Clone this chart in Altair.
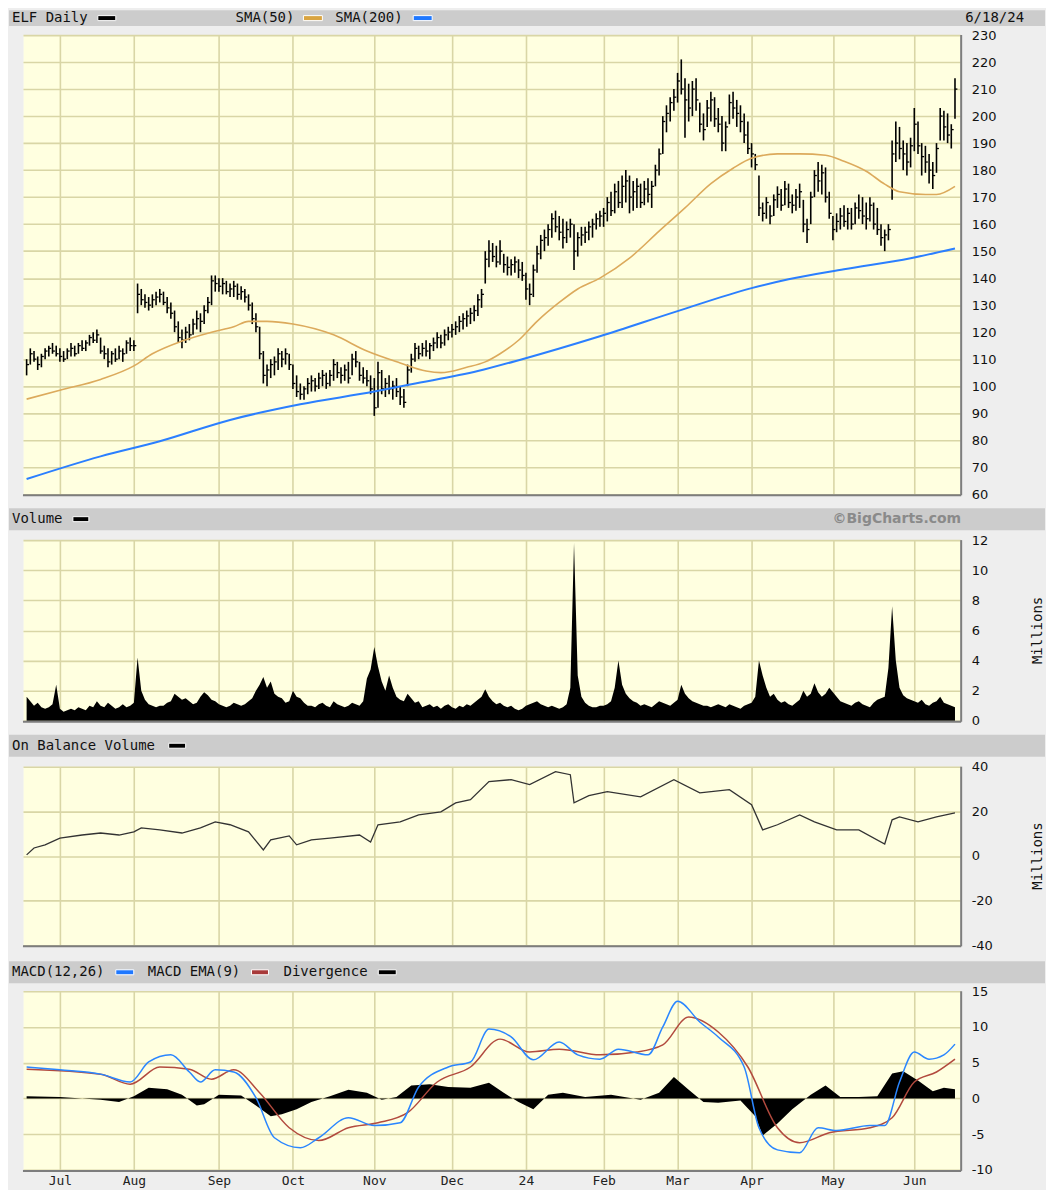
import altair as alt
import pandas as pd

# ---------------- data ----------------
month_ticks = [9, 29, 52, 72, 94, 115, 135, 156, 176, 196, 218, 240]   # trading-day index of 1st session
month_labels = ["Jul", "Aug", "Sep", "Oct", "Nov", "Dec", "24", "Feb", "Mar", "Apr", "May", "Jun"]

# daily bars (high, low, close)
bars_jun23 = [(110,104,108),(114,108,112),(113,109,110),(111,106,108),(112,107,111),(114,110,113),(115,111,114),(116,112,113),(115,111,112)]
bars_jul = [(114,109,111),(113,109,110),(114,110,113),(116,111,114),(115,111,112),(116,112,115),(117,113,114),(117,113,116),(119,115,118),(120,116,117),
            (121,116,119),(118,112,113),(115,110,112),(114,107,109),(113,108,112),(114,109,110),(115,110,113),(114,109,112),(117,112,116),(118,113,115)]
bars_aug = [(117,113,115),(138,127,134),(136,130,132),(134,129,131),(133,128,130),(134,129,132),(135,130,133),(136,131,134),(135,130,131),(133,127,129),
            (131,125,127),(128,120,122),(124,116,118),(121,114,117),(122,116,120),(123,117,119),(125,119,123),(128,121,125),(127,120,124),(130,123,128),
            (133,127,131),(141,130,139),(141,135,138)]
bars_sep = [(140,135,137),(140,134,138),(139,134,135),(138,133,136),(139,133,137),(138,132,134),(137,132,135),(136,131,133),(134,128,130),(131,123,125),
            (127,120,122),(122,110,112),(113,101,104),(108,100,106),(110,103,108),(111,104,109),(114,106,112),(113,107,110),(114,108,112),(112,106,108)]
bars_oct = [(108,99,101),(104,96,98),(101,95,97),(100,95,99),(103,97,101),(104,98,102),(103,98,100),(105,99,103),(106,100,104),(105,99,101),
            (106,100,104),(110,102,108),(109,103,105),(107,101,104),(108,102,106),(109,101,103),(112,104,110),(113,107,109),(109,102,104),(107,101,103),
            (106,100,102),(104,97,99)]
bars_nov = [(103,89,92),(109,92,105),(106,97,99),(103,96,101),(104,97,99),(102,95,100),(103,96,98),(100,93,96),(99,92,94),(108,100,106),
            (112,105,110),(116,109,114),(115,110,112),(116,111,114),(117,111,113),(116,110,115),(118,113,116),(120,114,118),(119,114,116),(121,115,119),
            (122,117,120)]
bars_dec = [(123,118,121),(124,119,122),(126,120,124),(127,121,125),(128,122,126),(129,123,127),(130,124,128),(134,126,132),(136,129,134),(150,138,147),
            (154,144,150),(153,146,148),(152,144,146),(154,145,150),(149,142,145),(148,141,144),(147,141,145),(148,142,146),(147,140,143),(146,139,141)]
bars_jan = [(142,132,136),(138,130,134),(145,133,143),(152,142,149),(156,147,154),(158,150,155),(160,152,158),(164,155,162),(165,157,159),(163,154,157),
            (162,151,155),(161,153,158),(162,155,160),(160,143,150),(157,148,155),(159,152,156),(159,153,157),(161,154,159),(162,155,160),(164,158,162),
            (165,159,163)]
bars_feb = [(166,159,164),(170,161,168),(172,163,165),(175,164,172),(176,166,168),(178,166,174),(180,168,176),(178,164,170),(176,165,172),(177,166,174),
            (175,166,168),(176,167,173),(177,168,171),(176,166,174),(182,174,180),(188,178,186),(200,186,198),(204,194,201),(207,198,205),(210,202,207)]
bars_mar = [(216,205,213),(221,208,210),(214,192,206),(212,198,203),(213,200,210),(214,202,206),(205,194,197),(201,191,195),(206,196,203),(209,198,206),
            (207,196,199),(203,194,197),(200,187,190),(198,187,196),(208,197,205),(209,199,203),(206,196,201),(204,194,198),(201,190,193),(198,186,188)]
bars_apr = [(190,181,186),(186,180,182),(178,163,166),(168,161,164),(170,162,168),(167,160,163),(171,163,169),(174,166,171),(173,165,167),(176,167,173),
            (175,166,168),(171,164,167),(173,165,170),(175,166,172),(169,157,160),(162,153,158),(172,160,170),(180,170,178),(183,172,176),(182,171,179),
            (181,168,170),(172,162,164)]
bars_may = [(163,154,158),(164,157,161),(166,158,163),(167,159,161),(166,158,164),(166,158,160),(168,160,166),(171,162,165),(170,160,163),(168,158,162),
            (170,161,167),(168,158,160),(166,156,158),(160,152,155),(158,150,156),(160,154,158),(191,169,186),(198,183,190),(196,184,188),(191,180,186),
            (190,178,183),(192,181,189)]
bars_jun24 = [(203,187,197),(198,186,189),(190,178,185),(189,179,183),(186,175,180),(183,173,178),(190,179,188),(203,191,200),(202,191,196),(201,190,193),
              (197,188,195),(214,199,210)]

# daily volume, millions
vol_jun23 = [1.6, 1.3, 1.0, 1.2, 0.9, 0.8, 0.9, 1.1, 2.4]
vol_jul = [0.8, 0.6, 0.7, 0.8, 0.7, 0.9, 0.8, 0.7, 1.0, 0.9, 1.3, 1.0, 0.9, 1.2, 1.0, 0.8, 0.9, 1.1, 0.9, 1.0]
vol_aug = [1.2, 4.2, 2.0, 1.4, 1.1, 1.0, 0.9, 1.0, 1.0, 1.2, 1.3, 1.8, 1.6, 1.4, 1.5, 1.3, 1.1, 1.2, 1.6, 1.9, 1.7, 1.4, 1.3]
vol_sep = [1.1, 1.0, 0.9, 1.0, 1.2, 1.1, 1.0, 1.1, 1.3, 1.5, 2.0, 2.4, 2.9, 2.2, 2.6, 1.8, 1.6, 1.5, 1.2, 1.3]
vol_oct = [2.0, 1.6, 1.5, 1.2, 1.0, 1.0, 0.9, 1.1, 1.2, 1.0, 0.9, 1.3, 1.1, 1.0, 0.9, 1.0, 1.2, 1.1, 1.0, 1.3, 2.8, 3.4]
vol_nov = [4.9, 3.6, 2.6, 2.0, 3.0, 2.2, 1.6, 1.4, 1.3, 1.8, 1.5, 1.2, 1.3, 0.9, 1.0, 1.1, 0.9, 1.0, 0.8, 1.0, 1.1]
vol_dec = [0.9, 0.8, 1.0, 0.9, 1.1, 1.0, 1.2, 1.4, 1.6, 2.1, 1.6, 1.3, 1.1, 1.2, 1.0, 0.9, 1.0, 0.8, 0.7, 0.8]
vol_jan = [1.0, 1.1, 1.2, 1.3, 1.1, 1.0, 0.9, 1.0, 0.9, 0.8, 0.9, 1.1, 2.2, 11.8, 3.0, 1.6, 1.2, 1.0, 0.9, 0.9, 1.0]
vol_feb = [1.0, 1.1, 1.3, 2.2, 4.0, 2.4, 1.8, 1.5, 1.3, 1.2, 1.0, 1.1, 1.0, 0.9, 1.1, 1.3, 1.2, 1.1, 1.0, 1.2]
vol_mar = [1.4, 2.4, 1.8, 1.5, 1.3, 1.2, 1.1, 1.0, 1.0, 0.9, 1.0, 1.1, 1.0, 0.9, 1.1, 1.0, 0.9, 0.8, 1.0, 1.1]
vol_apr = [1.2, 1.6, 4.0, 3.0, 2.2, 1.6, 1.8, 1.4, 1.2, 1.3, 1.1, 1.0, 1.2, 1.4, 2.0, 1.6, 1.8, 2.5, 1.9, 1.6, 1.8, 2.2]
vol_may = [1.9, 1.6, 1.3, 1.2, 1.1, 1.0, 1.2, 1.3, 1.1, 1.0, 0.9, 1.2, 1.4, 1.5, 1.6, 3.5, 7.6, 4.0, 2.2, 1.7, 1.5, 1.4]
vol_jun24 = [1.3, 1.2, 1.4, 1.1, 1.0, 1.2, 1.3, 1.6, 1.2, 1.1, 1.0, 0.9]

# moving averages (trading-day index, value)
sma50_i = [0, 9, 20, 29, 34, 42, 50, 56, 60, 65, 72, 83, 92, 101, 108, 112, 119, 124, 128, 133,
           138, 144, 149, 155, 163, 171, 178, 185, 191, 196, 203, 209, 216, 221, 227, 232, 236, 243, 246, 251]
sma50_v = [95.2, 98.5, 102.5, 107.5, 112, 116.7, 120, 122, 124, 124, 123, 119, 113, 108.6, 105.6, 105, 107, 109, 112, 117,
           124, 131, 136, 140, 147.4, 157.4, 166, 175, 180.7, 184.4, 186, 186, 185.5, 183.3, 179.6, 174.8, 172, 171, 171, 174]
sma200_i = [0, 20, 36, 55, 74, 94, 104, 122, 134, 155, 176, 196, 206, 221, 239, 251]
sma200_v = [65.6, 74, 79.6, 87.5, 93.3, 98, 100.7, 105.6, 110, 118.5, 127.8, 136.3, 139.6, 143.3, 147.4, 151]

# on balance volume, millions
obv_i = [0, 2, 5, 9, 15, 20, 25, 29, 31, 36, 42, 47, 51, 55, 60, 64, 66, 71, 73, 77, 82, 90, 93, 95, 101, 106, 112,
         116, 120, 125, 131, 136, 143, 147, 148, 152, 157, 166, 175, 182, 190, 196, 199, 203, 209, 213, 219, 225, 232,
         234, 236, 241, 246, 251]
obv_v = [0.5, 3.6, 5, 8, 9.4, 10.3, 9.4, 10.8, 12.6, 11.7, 10.3, 12.6, 15.3, 14, 10.8, 2.7, 7.2, 9, 5, 7.2, 8, 9.4, 6.3,
         14, 15.3, 18.4, 19.8, 23.8, 25.2, 33.3, 34.2, 32, 37.8, 36.4, 23.8, 27, 28.8, 26.5, 34.2, 28.3, 29.7, 23, 11.7,
         14, 18.4, 15.3, 11.7, 11.7, 5.4, 16.2, 17.5, 15.3, 17.5, 19.3]

# MACD
macd_i = [0, 9, 20, 28, 33, 39, 44, 47, 51, 56, 62, 67, 74, 79, 87, 94, 101, 106, 114, 120, 125, 131, 137, 144, 149,
          155, 160, 168, 172, 176, 182, 187, 194, 198, 203, 209, 214, 219, 228, 232, 236, 240, 244, 248, 251]
macd_v = [4.4, 4.0, 3.4, 2.3, 5.1, 6.1, 3.7, 2.3, 4.0, 3.7, 0.1, -5.5, -6.9, -5.5, -2.7, -3.8, -3.4, 1.6, 4.4, 5.1,
          9.7, 8.6, 5.4, 7.9, 6.1, 5.5, 6.9, 6.1, 10.0, 13.6, 10.7, 8.6, 4.4, -4.1, -7.2, -7.6, -4.1, -4.5, -3.8, -3.8,
          2.3, 6.5, 5.5, 6.1, 7.6]
signal_i = [0, 20, 28, 36, 44, 50, 56, 63, 71, 79, 87, 95, 103, 111, 120, 128, 136, 144, 155, 165, 172, 179, 187, 195,
            203, 209, 217, 228, 234, 240, 246, 251]
signal_v = [4.1, 3.4, 2.0, 4.4, 4.1, 2.7, 4.0, 0.8, -4.1, -5.9, -4.1, -3.4, -2.0, 2.3, 4.4, 8.3, 6.5, 6.9, 6.1, 6.5,
            7.5, 11.4, 9.3, 4.4, -4.1, -6.2, -4.8, -4.1, -2.7, 2.3, 3.7, 5.5]
div_i = [0, 9, 20, 25, 29, 33, 38, 42, 46, 48, 52, 58, 62, 66, 69, 73, 77, 82, 87, 92, 96, 100, 104, 109, 114, 120,
         125, 129, 133, 137, 141, 145, 151, 158, 166, 171, 175, 179, 183, 187, 193, 197, 199, 203, 207, 212, 216, 220,
         225, 230, 234, 237, 241, 245, 248, 251]
div_v = [0.3, 0.2, -0.2, -0.5, 0.3, 1.5, 1.3, 0.5, -1.0, -0.8, 0.5, 0.4, -1.0, -2.5, -2.2, -1.5, -0.5, 0.3, 1.2, 0.8,
         -0.2, 0.2, 1.8, 2.0, 1.6, 1.5, 2.2, 0.8, -0.5, -1.5, 0.5, 0.8, 0.2, 0.5, -0.2, 0.8, 3.0, 1.2, -0.5, -0.6,
         -0.3, -2.5, -5.2, -3.5, -1.5, 0.5, 1.8, 0.2, 0.2, 0.3, 3.5, 3.8, 2.5, 1.0, 1.5, 1.3]

# ---------------- tables ----------------
bars = (bars_jun23 + bars_jul + bars_aug + bars_sep + bars_oct + bars_nov + bars_dec +
        bars_jan + bars_feb + bars_mar + bars_apr + bars_may + bars_jun24)
vols = (vol_jun23 + vol_jul + vol_aug + vol_sep + vol_oct + vol_nov + vol_dec +
        vol_jan + vol_feb + vol_mar + vol_apr + vol_may + vol_jun24)
days = list(range(len(bars)))

price_df = pd.DataFrame({"i": days, "high": [b[0] for b in bars],
                         "low": [b[1] for b in bars], "close": [b[2] for b in bars]})
vol_df = pd.DataFrame({"i": days, "v": vols})
sma50_df = pd.DataFrame({"i": sma50_i, "v": sma50_v})
sma200_df = pd.DataFrame({"i": sma200_i, "v": sma200_v})
obv_df = pd.DataFrame({"i": obv_i, "v": obv_v})
macd_df = pd.DataFrame({"i": macd_i, "v": macd_v})
sig_df = pd.DataFrame({"i": signal_i, "v": signal_v})
div_df = pd.DataFrame({"i": div_i, "v": div_v})
one = pd.DataFrame({"k": [0]})

# ---------------- styling helpers ----------------
W = 939
GRID = "#d9d6a6"
GW = 1.6
XDOM = [-0.985, 252.4]
MONO = "DejaVu Sans Mono"
SANS = "DejaVu Sans"
HDR = 14

lab_expr = ("[" + ",".join("'%s'" % m for m in month_labels) + "][indexof([" +
            ",".join(str(t) for t in month_ticks) + "], datum.value)]")


def xenc(bottom=False, field="i:Q"):
    if bottom:
        ax = alt.Axis(values=month_ticks, grid=True, gridColor=GRID, gridWidth=GW, ticks=False, domain=False,
                      title=None, labelExpr=lab_expr, labelFont=MONO, labelFontSize=13, labelPadding=5,
                      labelFlush=False, labelColor="#222", labelAngle=0)
    else:
        ax = alt.Axis(values=month_ticks, grid=True, gridColor=GRID, gridWidth=GW, ticks=False, domain=False,
                      labels=False, title=None)
    return alt.X(field, scale=alt.Scale(domain=XDOM, nice=False, zero=False), axis=ax)


def yenc(field, dom, vals):
    return alt.Y(field, scale=alt.Scale(domain=dom, nice=False, zero=False),
                 axis=alt.Axis(orient="right", values=vals, grid=True, gridColor=GRID, gridWidth=GW, ticks=False,
                               domain=False, title=None, labelPadding=11, labelFont=SANS, labelFontSize=13,
                               labelColor="#111", labelExpr="'' + datum.value"))


def band(y1, y2):
    return alt.Chart(one).mark_rect(color="#cccccc").encode(
        x=alt.value(-14), x2=alt.value(1024), y=alt.value(y1), y2=alt.value(y2))


def label(text, x, y, align="left", font=MONO, size=HDR, weight="normal", color="#111", angle=0):
    return alt.Chart(one).mark_text(text=text, align=align, baseline="middle", font=font, fontSize=size,
                                    fontWeight=weight, color=color, angle=angle).encode(
        x=alt.value(x), y=alt.value(y))


def swatch(x1, x2, y, color):
    return alt.Chart(one).mark_rect(color=color, stroke="#ffffff", strokeWidth=1).encode(
        x=alt.value(x1), x2=alt.value(x2), y=alt.value(y - 2.5), y2=alt.value(y + 2.5))


def frame(H):
    return [
        alt.Chart(one).mark_rule(color="#7d7d7d", strokeWidth=2).encode(
            x=alt.value(0), x2=alt.value(W + 1), y=alt.value(H + 1)),
        alt.Chart(one).mark_rule(color="#7d7d7d", strokeWidth=2).encode(
            x=alt.value(W + 1), y=alt.value(0), y2=alt.value(H + 1)),
    ]


# ---------------- price panel ----------------
HP = 460
PDOM = [60, 230]
PV = list(range(60, 231, 10))
hl = alt.Chart(price_df).mark_rule(color="#000000", strokeWidth=1.6).encode(
    x=xenc(), y=yenc("low:Q", PDOM, PV), y2="high:Q")
cl = alt.Chart(price_df).transform_calculate(i2="datum.i + 0.65").mark_rule(
    color="#000000", strokeWidth=1.3).encode(x=xenc(), x2="i2:Q", y=yenc("close:Q", PDOM, PV))
s50 = alt.Chart(sma50_df).mark_line(color="#dcaa5c", strokeWidth=1.6, interpolate="monotone").encode(
    x=xenc(), y=yenc("v:Q", PDOM, PV))
s200 = alt.Chart(sma200_df).mark_line(color="#2b7fff", strokeWidth=2, interpolate="monotone").encode(
    x=xenc(), y=yenc("v:Q", PDOM, PV))
price = alt.layer(
    hl, cl, s200, s50,
    band(-25, -9),
    label("ELF Daily", -11, -17), swatch(75, 93, -17, "#000000"),
    label("SMA(50)", 213, -17), swatch(281, 300, -17, "#d9a441"),
    label("SMA(200)", 313, -17), swatch(391, 410, -17, "#1f78ff"),
    label("6/18/24", 1003, -17, align="right"),
    *frame(HP),
).properties(width=W, height=HP)

# ---------------- volume panel ----------------
HV = 181
vol_area = alt.Chart(vol_df).transform_calculate(z="0").mark_area(color="#000000", interpolate="linear").encode(
    x=xenc(), y=yenc("v:Q", [0, 12], list(range(0, 13, 2))), y2="z:Q")
vol = alt.layer(
    vol_area,
    band(-32, -10),
    label("Volume", -11, -21), swatch(50, 66, -21, "#000000"),
    label("\u00a9BigCharts.com", 940, -21, align="right", font=SANS, size=14, weight="bold", color="#8a8a8a"),
    label("Millions", 1017, HV / 2, align="center", angle=270),
    *frame(HV),
).properties(width=W, height=HV)

# ---------------- OBV panel ----------------
HO = 179
obv_line = alt.Chart(obv_df).mark_line(color="#333333", strokeWidth=1.3).encode(
    x=xenc(), y=yenc("v:Q", [-40, 40], [-40, -20, 0, 20, 40]))
obv = alt.layer(
    obv_line,
    band(-32, -10),
    label("On Balance Volume", -11, -21), swatch(146, 163, -21, "#000000"),
    label("Millions", 1017, HO / 2, align="center", angle=270),
    *frame(HO),
).properties(width=W, height=HO)

# ---------------- MACD panel ----------------
HM = 179
MDOM = [-10, 15]
MV = [-10, -5, 0, 5, 10, 15]
div_area = alt.Chart(div_df).transform_calculate(z="0").mark_area(color="#000000").encode(
    x=xenc(bottom=True), y=yenc("v:Q", MDOM, MV), y2="z:Q")
sig_line = alt.Chart(sig_df).mark_line(color="#b24a3e", strokeWidth=1.5, interpolate="monotone").encode(
    x=xenc(bottom=True), y=yenc("v:Q", MDOM, MV))
macd_line = alt.Chart(macd_df).mark_line(color="#2a86ff", strokeWidth=1.5, interpolate="monotone").encode(
    x=xenc(bottom=True), y=yenc("v:Q", MDOM, MV))
macd = alt.layer(
    div_area, sig_line, macd_line,
    band(-30, -8),
    label("MACD(12,26)", -11, -19), swatch(93, 111, -19, "#1f78ff"),
    label("MACD EMA(9)", 125, -19), swatch(229, 246, -19, "#a83a3a"),
    label("Divergence", 261, -19), swatch(356, 374, -19, "#000000"),
    *frame(HM),
).properties(width=W, height=HM)

chart = alt.vconcat(price, vol, obv, macd, spacing=46, bounds="flush").properties(
    padding=0, background="#eeeeee"
).configure_view(fill="#ffffe0", stroke="#f6f6ea")

chart.save("out.html", embed_options={"renderer": "svg", "actions": False})
